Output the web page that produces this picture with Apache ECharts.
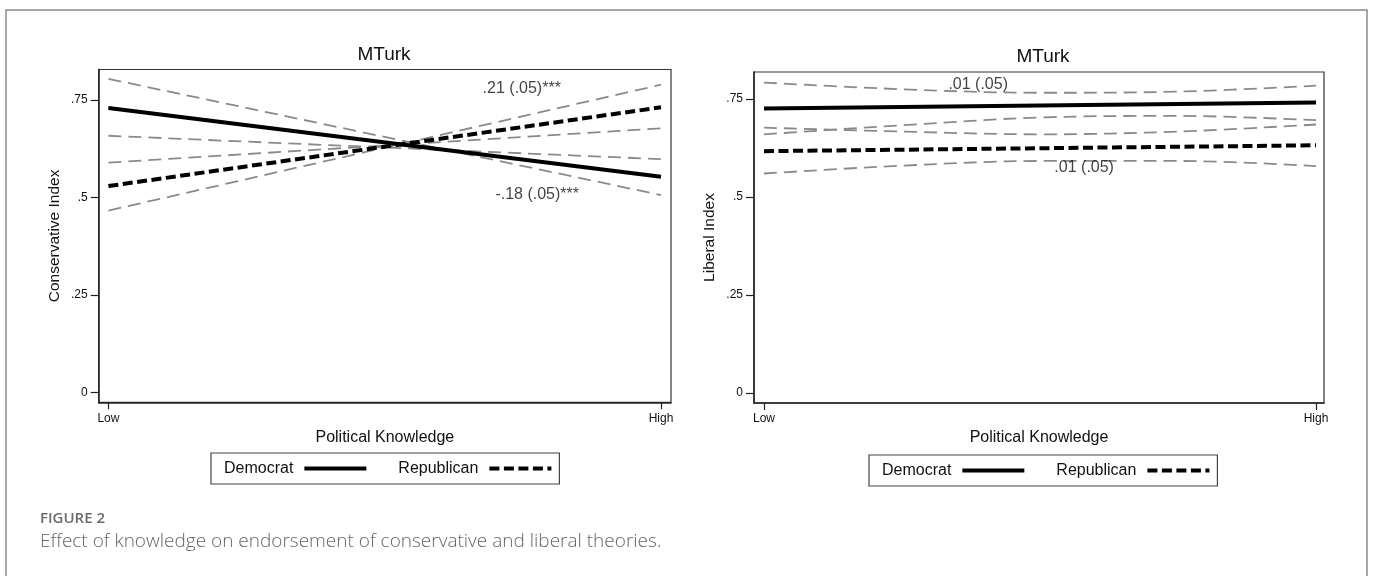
<!DOCTYPE html>
<html>
<head>
<meta charset="utf-8">
<script src="https://cdn.jsdelivr.net/npm/echarts@6/dist/echarts.min.js"></script>
<style>
html,body{margin:0;padding:0;background:#fff;}
#chart{width:1375px;height:576px;}
</style>
</head>
<body>
<div id="chart"></div>
<script>
// ---------- data ----------
const panelTitles = ['MTurk', 'MTurk'];
const yAxisTitles = ['Conservative Index', 'Liberal Index'];
const xAxisTitle = 'Political Knowledge';
const xTickValues = [0, 1];
const xTickLabels = ['Low', 'High'];
const yTickValues = [0, 0.25, 0.5, 0.75];
const yTickLabels = ['0', '.25', '.5', '.75'];
const legendNames = ['Democrat', 'Republican'];

// Conservative panel (straight fitted lines, Low -> High)
const consX = [0, 1];
const consDem = [0.729, 0.553];
const consRep = [0.529, 0.731];
const consDemCiA = [0.804, 0.506];
const consDemCiB = [0.658, 0.598];
const consRepCiA = [0.466, 0.789];
const consRepCiB = [0.589, 0.677];

// Liberal panel
const libX = [0, 1];
const libDem = [0.726, 0.741];
const libRep = [0.617, 0.632];
const libCiX = [0, 0.25, 0.5, 0.75, 1];
const libDemUpper = [0.792, 0.775, 0.766, 0.769, 0.784];
const libDemLower = [0.660, 0.683, 0.703, 0.707, 0.696];
const libRepUpper = [0.677, 0.667, 0.660, 0.667, 0.685];
const libRepLower = [0.560, 0.580, 0.592, 0.592, 0.579];

// coefficient annotations (text, anchored at knowledge / index values)
const consNotes = ['.21 (.05)***', '-.18 (.05)***'];
const consNoteX = [0.748, 0.776];
const consNoteY = [0.779, 0.506];
const libNotes = ['.01 (.05)', '.01 (.05)'];
const libNoteX = [0.388, 0.580];
const libNoteY = [0.787, 0.575];

const captionLabel = 'FIGURE 2';
const captionText = 'Effect of knowledge on endorsement of conservative and liberal theories.';

// ---------- build ----------
const FONT = '"Liberation Sans", Arial, Helvetica, sans-serif';
const pairs = (xs, ys) => ys.map((v, i) => [xs[i], v]);
const CI_COLOR = '#8a8a8a';

function ciSeries(idx, xs, ys, smooth) {
  return {
    type: 'line', name: 'ci', xAxisIndex: idx, yAxisIndex: idx,
    data: pairs(xs, ys), symbol: 'none', smooth: smooth ? 0.35 : false,
    silent: true, z: 2,
    lineStyle: { color: CI_COLOR, width: 1.8, type: [13, 7] }
  };
}
function demSeries(idx, xs, ys) {
  return {
    type: 'line', name: legendNames[0], xAxisIndex: idx, yAxisIndex: idx,
    data: pairs(xs, ys), symbol: 'none', z: 4, color: '#000',
    lineStyle: { color: '#000', width: 4 }
  };
}
function repSeries(idx, xs, ys) {
  return {
    type: 'line', name: legendNames[1], xAxisIndex: idx, yAxisIndex: idx,
    data: pairs(xs, ys), symbol: 'none', z: 4, color: '#000',
    lineStyle: { color: '#000', width: 4, type: [10, 4.5], cap: 'butt' }
  };
}
function noteSeries(idx, texts, xs, ys) {
  return {
    type: 'scatter', name: 'note', xAxisIndex: idx, yAxisIndex: idx,
    symbolSize: 0, silent: true, z: 6,
    data: texts.map((t, i) => ({ value: [xs[i], ys[i]], name: t })),
    label: { show: true, position: 'inside', formatter: p => p.name,
             fontFamily: FONT, fontSize: 16, color: '#111' }
  };
}

const grids = [
  { left: 98.7, top: 69.5, width: 572.3, height: 332.8 },
  { left: 754, top: 72, width: 570, height: 331 }
];
const xRanges = [[-0.01755, 1.0181], [-0.0181, 1.0145]];
const yRanges = [[-0.0257, 0.828], [-0.0255, 0.819]];

const xAxes = grids.map((g, i) => ({
  type: 'value', gridIndex: i, min: xRanges[i][0], max: xRanges[i][1],
  splitLine: { show: false },
  axisLine: { show: true, onZero: false, lineStyle: { color: '#222', width: 1.5 } },
  axisTick: { show: true, length: 7, customValues: xTickValues, lineStyle: { color: '#222', width: 1.2 } },
  axisLabel: { customValues: xTickValues, margin: 10, fontFamily: FONT, fontSize: 12, color: '#111',
               formatter: v => xTickLabels[xTickValues.indexOf(v)] },
  name: xAxisTitle, nameLocation: 'middle', nameGap: 27,
  nameTextStyle: { fontFamily: FONT, fontSize: 16, color: '#111' }
}));
const yAxes = grids.map((g, i) => ({
  type: 'value', gridIndex: i, min: yRanges[i][0], max: yRanges[i][1],
  splitLine: { show: false },
  axisLine: { show: true, onZero: false, lineStyle: { color: '#222', width: 1.5 } },
  axisTick: { show: true, length: 8, customValues: yTickValues, lineStyle: { color: '#222', width: 1.2 } },
  axisLabel: { customValues: yTickValues, margin: 11, fontFamily: FONT, fontSize: 12, color: '#111',
               formatter: v => yTickLabels[yTickValues.indexOf(v)] },
  name: yAxisTitles[i], nameLocation: 'middle', nameGap: 36,
  nameTextStyle: { fontFamily: FONT, fontSize: 15.5, color: '#111' }
}));

const series = [
  ciSeries(0, consX, consDemCiA), ciSeries(0, consX, consDemCiB),
  ciSeries(0, consX, consRepCiA), ciSeries(0, consX, consRepCiB),
  demSeries(0, consX, consDem), repSeries(0, consX, consRep),
  noteSeries(0, consNotes, consNoteX, consNoteY),
  ciSeries(1, libCiX, libDemUpper, true), ciSeries(1, libCiX, libDemLower, true),
  ciSeries(1, libCiX, libRepUpper, true), ciSeries(1, libCiX, libRepLower, true),
  demSeries(1, libX, libDem), repSeries(1, libX, libRep),
  noteSeries(1, libNotes, libNoteX, libNoteY)
];

function legendAt(left, top) {
  return {
    data: legendNames, left: left, top: top, orient: 'horizontal', align: 'right',
    itemWidth: 62, itemHeight: 14, itemGap: 30,
    padding: [7.5, 6, 7.5, 13], borderColor: '#444', borderWidth: 1.2,
    selectedMode: false, inactiveColor: '#000',
    itemStyle: { opacity: 0 },
    lineStyle: { width: 4 },
    textStyle: { fontFamily: FONT, fontSize: 16, color: '#111', padding: [0, 6, 0, 0] }
  };
}

const chart = echarts.init(document.getElementById('chart'), null, { renderer: 'canvas' });
chart.setOption({
  animation: false,
  backgroundColor: '#fff',
  grid: grids.map(g => Object.assign({ show: true, borderColor: '#333', borderWidth: 1.2, backgroundColor: '#fff' }, g)),
  xAxis: xAxes,
  yAxis: yAxes,
  legend: [legendAt(211, 453), legendAt(869, 455)],
  series: series,
  graphic: [
    { type: 'rect', shape: { x: 6, y: 10, width: 1361, height: 620 }, silent: true,
      style: { fill: 'none', stroke: '#8a8a8a', lineWidth: 1.5 }, z: -10 },
    { type: 'text', x: 384, y: 55, style: { text: panelTitles[0], font: '19px ' + FONT, fill: '#111', textAlign: 'center', textVerticalAlign: 'middle' } },
    { type: 'text', x: 1043, y: 57, style: { text: panelTitles[1], font: '19px ' + FONT, fill: '#111', textAlign: 'center', textVerticalAlign: 'middle' } },
    { type: 'text', x: 40, y: 519, style: { text: captionLabel, font: '600 15px "Open Sans", "Noto Sans", sans-serif', fill: '#6a6a6a', textVerticalAlign: 'middle' } },
    { type: 'text', x: 40, y: 542, style: { text: captionText, font: '300 19px "Open Sans", "Noto Sans", sans-serif', fill: '#666', textVerticalAlign: 'middle' } }
  ]
});
</script>
</body>
</html>
